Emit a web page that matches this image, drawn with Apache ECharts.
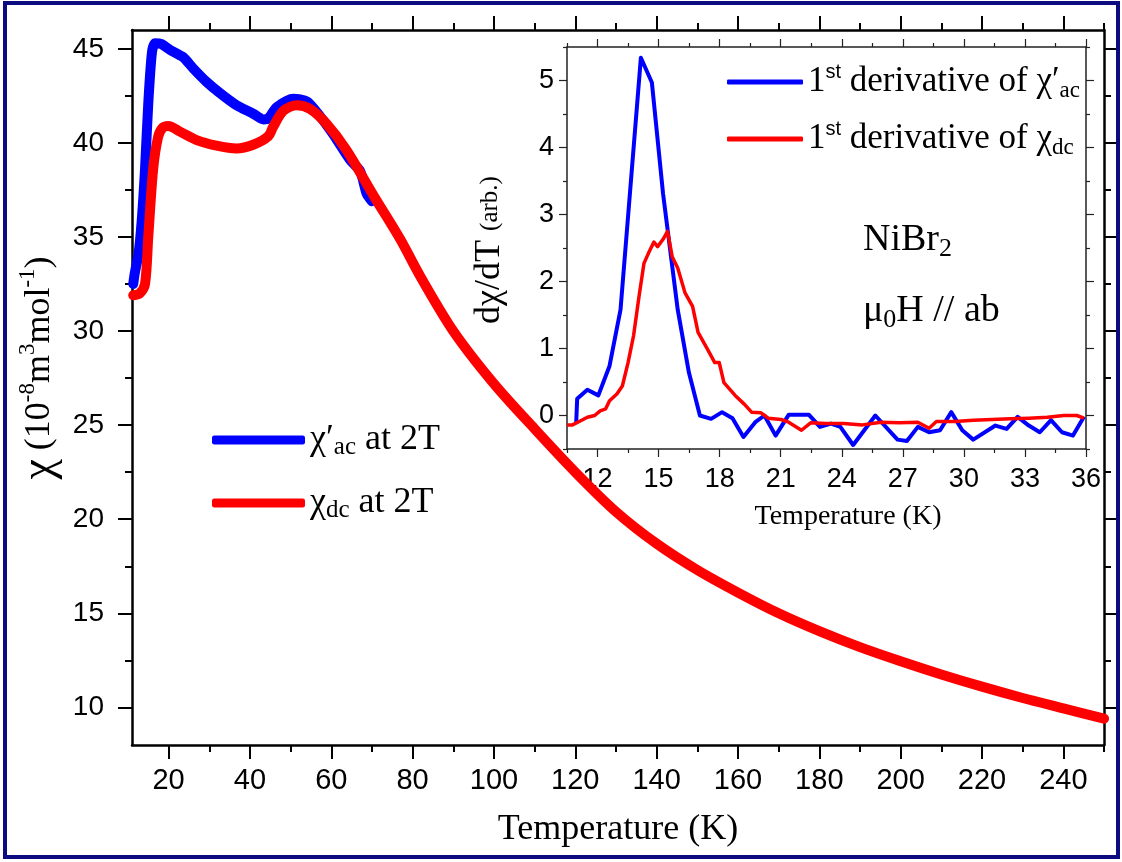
<!DOCTYPE html>
<html>
<head>
<meta charset="utf-8">
<script src="https://cdn.jsdelivr.net/npm/echarts@6/dist/echarts.min.js"></script>
<style>
  html, body { margin: 0; padding: 0; background: #fff; }
  #chart { width: 1122px; height: 862px; }
</style>
</head>
<body>
<div id="chart"></div>
<script>
// main panel: chi'_ac and chi_dc at 2T (10^-8 m^3/mol) vs temperature (K)
const acT = [11.3, 11.7, 12.6, 13.4, 14.2, 15.0, 15.9, 16.7, 18.3, 20.3, 23.6, 26.1, 29.3, 32.6, 36.7, 40.8, 43.3, 44.5, 46.6, 50.7, 54.0, 57.3, 60.5, 64.6, 67.1, 68.7, 70.0];
const acChi = [32.5, 33.1, 34.1, 35.9, 38.6, 42.1, 44.8, 45.3, 45.25, 44.95, 44.55, 43.95, 43.25, 42.65, 42.0, 41.55, 41.25, 41.3, 41.9, 42.35, 42.2, 41.4, 40.45, 39.1, 38.5, 37.3, 36.9];
const dcT = [11.3, 12.9, 14.2, 15.0, 16.2, 17.4, 18.5, 19.9, 22.8, 26.9, 31.8, 36.7, 40.8, 44.5, 45.7, 48.2, 51.5, 54.8, 58.9, 63.8, 70.4, 76.9, 81.9, 90, 100, 110, 120, 130, 140, 150, 160, 170, 180, 190, 200, 210, 220, 230, 240, 250];
const dcChi = [31.9, 32.0, 32.5, 35.0, 38.6, 40.3, 40.8, 40.9, 40.6, 40.15, 39.85, 39.7, 39.9, 40.35, 40.85, 41.7, 42.0, 41.8, 41.0, 39.6, 37.2, 34.9, 32.9, 30.0, 27.2, 24.8, 22.5, 20.4, 18.7, 17.3, 16.1, 15.0, 14.05, 13.2, 12.45, 11.75, 11.1, 10.5, 9.95, 9.4];

// inset: first derivatives (arb.)
const dAcT = [10.95, 11.0, 11.5, 12.04, 12.59, 13.13, 14.13, 14.67, 15.22, 15.94, 16.49, 17.03, 17.58, 18.12, 18.63, 19.17, 19.75, 20.2, 20.75, 21.39, 22.39, 22.93, 23.47, 23.93, 24.56, 25.65, 26.74, 27.2, 27.74, 28.29, 28.83, 29.38, 29.92, 30.46, 31.55, 32.1, 32.64, 33.19, 33.73, 34.28, 34.82, 35.36, 35.9];
const dAcVal = [-0.12, 0.25, 0.385, 0.3, 0.74, 1.58, 5.34, 4.97, 3.31, 1.58, 0.64, 0.0, -0.05, 0.05, -0.04, -0.32, -0.1, 0.0, -0.3, 0.01, 0.01, -0.17, -0.12, -0.17, -0.44, 0.0, -0.36, -0.38, -0.17, -0.25, -0.22, 0.05, -0.22, -0.36, -0.15, -0.2, -0.02, -0.15, -0.25, -0.07, -0.25, -0.3, -0.02];
const dDcT = [10.5, 10.77, 11.22, 11.5, 11.86, 12.13, 12.4, 12.59, 12.95, 13.22, 13.5, 13.77, 14.04, 14.28, 14.5, 14.77, 14.95, 15.22, 15.44, 15.67, 15.94, 16.3, 16.67, 16.94, 17.4, 17.76, 17.98, 18.21, 18.76, 19.21, 19.57, 20.03, 20.39, 21.02, 21.39, 22.02, 22.47, 23.2, 24.1, 25.02, 25.93, 26.83, 27.74, 28.29, 28.65, 29.56, 30.46, 31.37, 32.28, 33.19, 34.1, 34.91, 35.55, 35.9];
const dDcVal = [-0.14, -0.14, -0.07, -0.025, 0.0, 0.07, 0.1, 0.22, 0.32, 0.44, 0.79, 1.19, 1.78, 2.27, 2.42, 2.59, 2.52, 2.63, 2.75, 2.37, 2.2, 1.83, 1.63, 1.24, 0.99, 0.79, 0.79, 0.49, 0.3, 0.17, 0.05, 0.04, -0.04, -0.06, -0.1, -0.22, -0.11, -0.12, -0.12, -0.14, -0.1, -0.11, -0.1, -0.19, -0.09, -0.09, -0.07, -0.06, -0.05, -0.04, -0.025, 0.0, 0.0, -0.04];

// tick positions
const mainXTicks = [20, 40, 60, 80, 100, 120, 140, 160, 180, 200, 220, 240];
const mainXMinor = [30, 50, 70, 90, 110, 130, 150, 170, 190, 210, 230, 250];
const mainYTicks = [10, 15, 20, 25, 30, 35, 40, 45];
const mainYMinor = [12.5, 17.5, 22.5, 27.5, 32.5, 37.5, 42.5];
const insetXTicks = [12, 15, 18, 21, 24, 27, 30, 33, 36];
const insetXMinor = [10.5, 13.5, 16.5, 19.5, 22.5, 25.5, 28.5, 31.5, 34.5];
const insetYTicks = [0, 1, 2, 3, 4, 5];
const insetYMinor = [-0.5, 0.5, 1.5, 2.5, 3.5, 4.5, 5.5];

const serif = '"Liberation Serif", "Times New Roman", serif';
const sans = '"Liberation Sans", Arial, sans-serif';

const chart = echarts.init(document.getElementById('chart'));

function pairs(xs, ys) {
  return xs.map((x, i) => [x, ys[i]]);
}

// one axis = one set of ticks; mirrors and minor ticks are extra axes
function axis(o) {
  return {
    type: 'value',
    gridIndex: o.grid,
    position: o.pos,
    min: o.min,
    max: o.max,
    axisLine: { show: o.line, onZero: false, lineStyle: { color: o.color || '#000', width: o.lw || 1 } },
    axisTick: { show: true, inside: false, length: o.len, customValues: o.ticks, lineStyle: { color: o.color || '#000', width: o.tw } },
    axisLabel: o.label
      ? Object.assign({ show: true, customValues: o.ticks, color: '#000', fontFamily: sans }, o.label)
      : { show: false },
    splitLine: { show: false },
  };
}

const mainX = { grid: 0, min: 11, max: 250 };
const mainY = { grid: 0, min: 8, max: 46 };
const insX = { grid: 1, min: 10.5, max: 36 };
const insY = { grid: 1, min: -0.5, max: 5.5 };

const xAxes = [
  axis({ ...mainX, pos: 'bottom', line: true, lw: 2.5, ticks: mainXTicks, len: 14, tw: 2, label: { fontSize: 29, margin: 21 } }),
  axis({ ...mainX, pos: 'bottom', line: false, ticks: mainXMinor, len: 7, tw: 2 }),
  axis({ ...mainX, pos: 'top', line: true, lw: 2.5, ticks: mainXTicks, len: 14, tw: 2 }),
  axis({ ...mainX, pos: 'top', line: false, ticks: mainXMinor, len: 7, tw: 2 }),
  axis({ ...insX, pos: 'bottom', line: true, lw: 1.5, color: '#222', ticks: insetXTicks, len: 8, tw: 1.2, label: { fontSize: 27, margin: 17 } }),
  axis({ ...insX, pos: 'bottom', line: false, color: '#222', ticks: insetXMinor, len: 4, tw: 1.2 }),
  axis({ ...insX, pos: 'top', line: true, lw: 1.5, color: '#222', ticks: insetXTicks, len: 8, tw: 1.2 }),
  axis({ ...insX, pos: 'top', line: false, color: '#222', ticks: insetXMinor, len: 4, tw: 1.2 }),
];
const yAxes = [
  axis({ ...mainY, pos: 'left', line: true, lw: 2.5, ticks: mainYTicks, len: 14, tw: 2, label: { fontSize: 28, margin: 28 } }),
  axis({ ...mainY, pos: 'left', line: false, ticks: mainYMinor, len: 7, tw: 2 }),
  axis({ ...mainY, pos: 'right', line: true, lw: 2.5, ticks: mainYTicks, len: 14, tw: 2 }),
  axis({ ...mainY, pos: 'right', line: false, ticks: mainYMinor, len: 7, tw: 2 }),
  axis({ ...insY, pos: 'left', line: true, lw: 1.5, color: '#222', ticks: insetYTicks, len: 8, tw: 1.2, label: { fontSize: 27, margin: 13 } }),
  axis({ ...insY, pos: 'left', line: false, color: '#222', ticks: insetYMinor, len: 4, tw: 1.2 }),
  axis({ ...insY, pos: 'right', line: true, lw: 1.5, color: '#222', ticks: insetYTicks, len: 8, tw: 1.2 }),
  axis({ ...insY, pos: 'right', line: false, color: '#222', ticks: insetYMinor, len: 4, tw: 1.2 }),
];

const legendText = {
  chiAc: '{g|χ′}{s|ac}{g| at 2T}',
  chiDc: '{g|χ}{s|dc}{g| at 2T}',
  dAc: '{g|1}{u|st}{g| derivative of χ′}{s|ac}',
  dDc: '{g|1}{u|st}{g| derivative of χ}{s|dc}',
};

const option = {
  animation: false,
  backgroundColor: '#fff',
  grid: [
    { left: 132, top: 30, width: 972, height: 715, outerBoundsMode: 'none', containLabel: false },
    { left: 567, top: 47, width: 519, height: 402, outerBoundsMode: 'none', containLabel: false,
      show: true, backgroundColor: '#fff', borderWidth: 0 },
  ],
  xAxis: xAxes,
  yAxis: yAxes,
  legend: [
    {
      data: ['chiAc', 'chiDc'],
      orient: 'vertical',
      left: 212, top: 422, padding: 0,
      itemWidth: 93, itemHeight: 9, itemGap: 25,
      icon: 'roundRect',
      selectedMode: false,
      formatter: (name) => legendText[name],
      textStyle: {
        color: '#000', fontFamily: serif, fontSize: 36,
        rich: {
          g: { fontFamily: serif, fontSize: 36, lineHeight: 40, color: '#000' },
          s: { fontFamily: serif, fontSize: 25, lineHeight: 18, verticalAlign: 'bottom', color: '#000' },
        },
      },
    },
    {
      data: ['dAc', 'dDc'],
      orient: 'vertical',
      left: 727, top: 62, padding: 0,
      itemWidth: 76, itemHeight: 5, itemGap: 17,
      icon: 'roundRect',
      selectedMode: false,
      formatter: (name) => legendText[name],
      textStyle: {
        color: '#000', fontFamily: serif, fontSize: 35,
        rich: {
          g: { fontFamily: serif, fontSize: 35, lineHeight: 40, color: '#000' },
          u: { fontFamily: sans, fontSize: 20, lineHeight: 22, verticalAlign: 'top', color: '#000' },
          s: { fontFamily: serif, fontSize: 23, lineHeight: 16, verticalAlign: 'bottom', color: '#000' },
        },
      },
    },
  ],
  graphic: [
    // outer frame
    { type: 'rect', z: 100, silent: true, shape: { x: 5, y: 3, width: 1113, height: 854 },
      style: { fill: 'none', stroke: '#0c0c80', lineWidth: 4 } },
    // main axis titles
    { type: 'text', x: 618, y: 830, silent: true,
      style: { text: 'Temperature (K)', fontFamily: serif, fontSize: 36, fill: '#000', align: 'center', verticalAlign: 'middle' } },
    { type: 'text', x: 40, y: 368, rotation: Math.PI / 2, silent: true,
      style: {
        text: '{c|χ}{n| (10}{p|-8}{n|m}{p|3}{n|mol}{p|-1}{n|)}',
        align: 'center', verticalAlign: 'middle', fill: '#000',
        rich: {
          c: { fontFamily: serif, fontSize: 46, lineHeight: 48 },
          n: { fontFamily: serif, fontSize: 36, lineHeight: 48 },
          p: { fontFamily: serif, fontSize: 23, lineHeight: 30, verticalAlign: 'top' },
        },
      } },
    // inset axis titles
    { type: 'text', x: 848, y: 517, silent: true,
      style: { text: 'Temperature (K)', fontFamily: serif, fontSize: 28, fill: '#000', align: 'center', verticalAlign: 'middle' } },
    { type: 'text', x: 490, y: 250, rotation: Math.PI / 2, silent: true,
      style: {
        text: '{a|dχ/dT }{b|(arb.)}',
        align: 'center', verticalAlign: 'middle', fill: '#000',
        rich: {
          a: { fontFamily: serif, fontSize: 36, lineHeight: 40 },
          b: { fontFamily: serif, fontSize: 25, lineHeight: 40 },
        },
      } },
    // sample annotation
    { type: 'text', x: 863, y: 240, silent: true,
      style: {
        text: '{n|NiBr}{s|2}', align: 'left', verticalAlign: 'middle', fill: '#000',
        rich: {
          n: { fontFamily: serif, fontSize: 38, lineHeight: 44 },
          s: { fontFamily: serif, fontSize: 26, lineHeight: 20, verticalAlign: 'bottom' },
        },
      } },
    { type: 'text', x: 863, y: 311, silent: true,
      style: {
        text: '{n|μ}{s|0}{n|H // ab}', align: 'left', verticalAlign: 'middle', fill: '#000',
        rich: {
          n: { fontFamily: serif, fontSize: 38, lineHeight: 44 },
          s: { fontFamily: serif, fontSize: 26, lineHeight: 20, verticalAlign: 'bottom' },
        },
      } },
  ],
  series: [
    {
      name: 'chiAc', type: 'line', xAxisIndex: 0, yAxisIndex: 0,
      data: pairs(acT, acChi), showSymbol: false, symbol: 'none', smooth: 0.25,
      lineStyle: { color: '#0000ff', width: 10, cap: 'round', join: 'round' },
      itemStyle: { color: '#0000ff' },
    },
    {
      name: 'chiDc', type: 'line', xAxisIndex: 0, yAxisIndex: 0,
      data: pairs(dcT, dcChi), showSymbol: false, symbol: 'none', smooth: 0.3,
      lineStyle: { color: '#ff0000', width: 10, cap: 'round', join: 'round' },
      itemStyle: { color: '#ff0000' },
    },
    {
      name: 'dAc', type: 'line', xAxisIndex: 4, yAxisIndex: 4,
      data: pairs(dAcT, dAcVal), showSymbol: false, symbol: 'none',
      lineStyle: { color: '#0000ff', width: 4, join: 'round' },
      itemStyle: { color: '#0000ff' },
    },
    {
      name: 'dDc', type: 'line', xAxisIndex: 4, yAxisIndex: 4,
      data: pairs(dDcT, dDcVal), showSymbol: false, symbol: 'none',
      lineStyle: { color: '#ff0000', width: 3.5, join: 'round' },
      itemStyle: { color: '#ff0000' },
    },
  ],
};

chart.setOption(option);
</script>
</body>
</html>
